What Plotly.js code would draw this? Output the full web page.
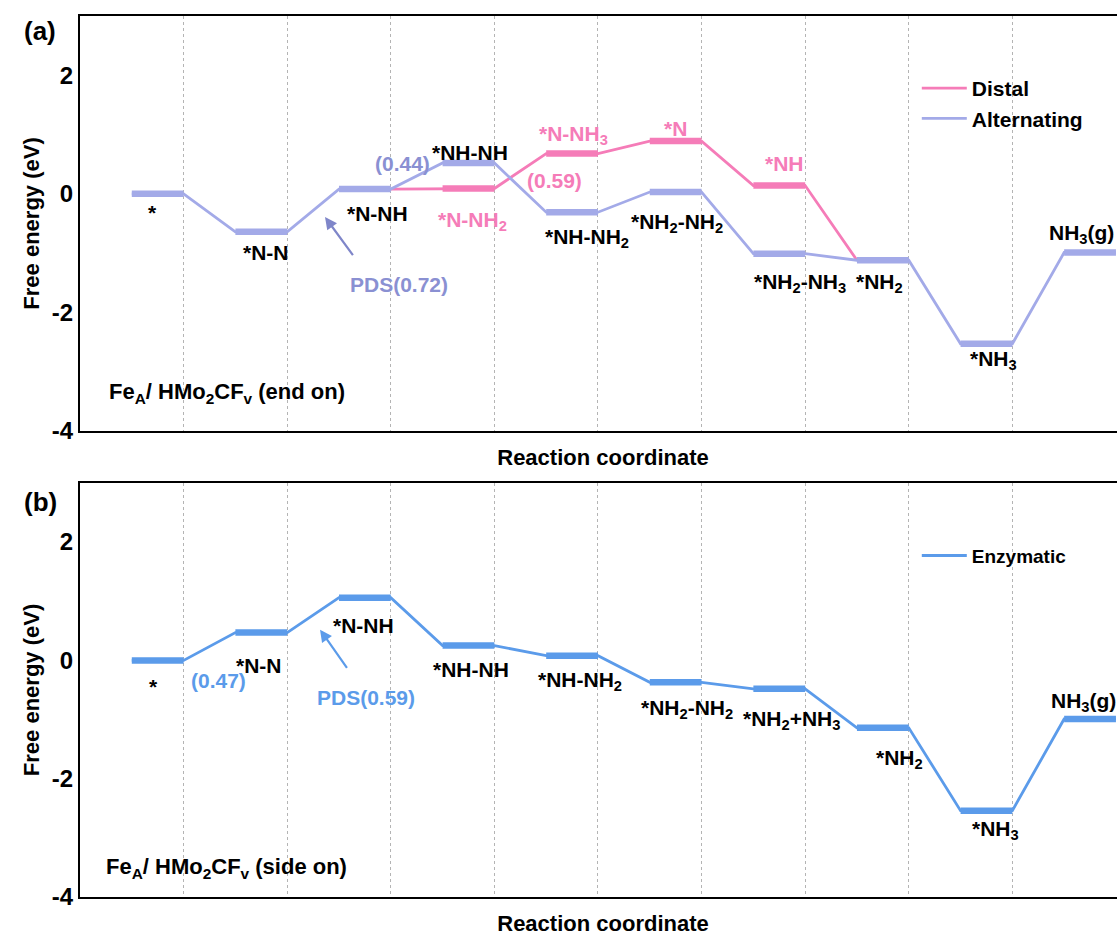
<!DOCTYPE html>
<html><head><meta charset="utf-8">
<script src="https://cdn.plot.ly/plotly-3.0.1.min.js"></script>
<style>html,body{margin:0;padding:0;overflow:hidden;background:#fff}#chart{width:1130px;height:936px}</style>
</head><body><div id="chart"></div>
<script>
// ---------- data ----------
const altSteps = [0,1,2,3,4,5,6,7,8,9];
const altStates = ['*','*N-N','*N-NH','*NH-NH','*NH-NH2','*NH2-NH2','*NH2-NH3','*NH2','*NH3','NH3(g)'];
const altG = [0.00,-0.64,0.08,0.52,-0.31,0.03,-1.01,-1.12,-2.53,-0.99];
const distSteps = [2,3,4,5,6,7];
const distStates = ['*N-NH','*N-NH2','*N-NH3','*N','*NH','*NH2'];
const distG = [0.08,0.09,0.68,0.89,0.14,-1.12];
const enzSteps = [0,1,2,3,4,5,6,7,8,9];
const enzStates = ['*','*N-N','*N-NH','*NH-NH','*NH-NH2','*NH2-NH2','*NH2+NH3','*NH2','*NH3','NH3(g)'];
const enzG = [0.00,0.47,1.06,0.25,0.08,-0.37,-0.48,-1.14,-2.54,-0.99];
const yTickVals = [-4,-2,0,2];
const yTickText = ['-4','-2','0','2'];
const gridSteps = [1,2,3,4,5,6,7,8,9];

// ---------- styles ----------
const FONT = 'Liberation Sans, Arial, sans-serif';
const C_ALT = '#a3aae8', C_ALT_TXT = '#8a90d2', C_DIST = '#f57cb8', C_ENZ = '#5b9bea';
const LAB = 21;

// connector path: each state is a plateau from step+0.5 to step+1
function connector(steps, g, partial) {
  const x = [], y = [];
  steps.forEach((s, k) => {
    const first = partial && k === 0, last = partial && k === steps.length - 1;
    if (!first) { x.push(s + 0.5); y.push(g[k]); }
    if (!last) { x.push(s + 1); y.push(g[k]); }
  });
  return {x, y};
}
function levels(steps, g, partial) {
  const x = [], y = [];
  steps.forEach((s, k) => {
    if (partial && (k === 0 || k === steps.length - 1)) return;
    x.push(s + 0.5, s + 1, null); y.push(g[k], g[k], null);
  });
  return {x, y};
}

const traces = [];
function addSeries(name, steps, g, states, partial, color, xa, ya, legend) {
  const c = connector(steps, g, partial), l = levels(steps, g, partial);
  traces.push({type:'scatter', mode:'lines', name, x:c.x, y:c.y, xaxis:xa, yaxis:ya, legend,
    line:{color, width:2.8}, hoverinfo:'skip'});
  traces.push({type:'scatter', mode:'lines', name, x:l.x, y:l.y, xaxis:xa, yaxis:ya, legend,
    line:{color, width:6.5}, showlegend:false, hoverinfo:'skip'});
}
addSeries('Distal', distSteps, distG, distStates, true, C_DIST, 'x', 'y', 'legend');
addSeries('Alternating', altSteps, altG, altStates, false, C_ALT, 'x', 'y', 'legend');
addSeries('Enzymatic', enzSteps, enzG, enzStates, false, C_ENZ, 'x2', 'y2', 'legend2');

function xAxis(anchor) {
  return {domain:[0,1], range:[0,10.097], anchor, tickvals:gridSteps, showticklabels:false, ticks:'',
    showgrid:true, gridcolor:'#b4b4b4', gridwidth:1, griddash:'3px,3px', zeroline:false,
    showline:true, mirror:true, linecolor:'#000', linewidth:2, fixedrange:true,
    title:{text:'Reaction coordinate', standoff:18, font:{family:FONT, size:22, color:'#000', weight:'bold'}}};
}
function yAxis(anchor, domain) {
  return {domain, range:[-4,3], anchor, tickvals:yTickVals, ticktext:yTickText, ticks:'',
    tickfont:{family:FONT, size:24, color:'#000', weight:'bold'}, showgrid:false, zeroline:false,
    showline:true, mirror:true, linecolor:'#000', linewidth:2, fixedrange:true,
    title:{text:'Free energy (eV)', standoff:6, font:{family:FONT, size:22, color:'#000', weight:'bold'}}};
}

const labTop = [
  ['*', 0.70, -0.32, '#000'],
  ['*N-N', 1.80, -0.99, '#000'],
  ['*N-NH', 2.87, -0.34, '#000'],
  ['(0.44)', 3.11, 0.51, C_ALT_TXT],
  ['*NH-NH', 3.76, 0.69, '#000'],
  ['*N-NH<sub>2</sub>', 3.79, -0.45, C_DIST],
  ['PDS(0.72)', 3.08, -1.53, C_ALT_TXT],
  ['*N-NH<sub>3</sub>', 4.76, 1.00, C_DIST],
  ['(0.59)', 4.585, 0.22, C_DIST],
  ['*N', 5.75, 1.11, C_DIST],
  ['*NH-NH<sub>2</sub>', 4.89, -0.74, '#000'],
  ['*NH<sub>2</sub>-NH<sub>2</sub>', 5.76, -0.50, '#000'],
  ['*NH', 6.80, 0.52, C_DIST],
  ['*NH<sub>2</sub>-NH<sub>3</sub>', 6.95, -1.51, '#000'],
  ['*NH<sub>2</sub>', 7.72, -1.51, '#000'],
  ['*NH<sub>3</sub>', 8.82, -2.80, '#000'],
  ['NH<sub>3</sub>(g)', 9.334, -0.67, '#000', 'left']
];
const labBot = [
  ['*', 0.705, -0.44, '#000'],
  ['(0.47)', 1.34, -0.34, C_ENZ],
  ['*N-N', 1.73, -0.08, '#000'],
  ['*N-NH', 2.74, 0.59, '#000'],
  ['PDS(0.59)', 2.76, -0.62, C_ENZ],
  ['*NH-NH', 3.77, -0.15, '#000'],
  ['*NH-NH<sub>2</sub>', 4.83, -0.35, '#000'],
  ['*NH<sub>2</sub>-NH<sub>2</sub>', 5.86, -0.82, '#000'],
  ['*NH<sub>2</sub>+NH<sub>3</sub>', 6.87, -1.01, '#000'],
  ['*NH<sub>2</sub>', 7.915, -1.67, '#000'],
  ['*NH<sub>3</sub>', 8.84, -2.87, '#000'],
  ['NH<sub>3</sub>(g)', 9.353, -0.71, '#000', 'left']
];
const annotations = [];
function addLabels(list, xr, yr) {
  list.forEach(a => annotations.push({text:a[0], x:a[1], y:a[2], xref:xr, yref:yr, showarrow:false,
    xanchor:a[4] || 'center', yanchor:'middle', font:{family:FONT, size:LAB, color:a[3], weight:'bold'}}));
}
addLabels(labTop, 'x', 'y');
addLabels(labBot, 'x2', 'y2');
annotations.push({text:'Fe<sub>A</sub>/ HMo<sub>2</sub>CF<sub>v</sub> (end on)', x:0.26, y:-3.36, xref:'x', yref:'y',
  showarrow:false, xanchor:'left', yanchor:'middle', font:{family:FONT, size:22, color:'#000', weight:'bold'}});
annotations.push({text:'Fe<sub>A</sub>/ HMo<sub>2</sub>CF<sub>v</sub> (side on)', x:0.23, y:-3.51, xref:'x2', yref:'y2',
  showarrow:false, xanchor:'left', yanchor:'middle', font:{family:FONT, size:22, color:'#000', weight:'bold'}});
annotations.push({text:'(a)', x:-0.038, y:0.983, xref:'paper', yref:'paper', showarrow:false,
  xanchor:'center', yanchor:'middle', font:{family:FONT, size:26, color:'#000', weight:'bold'}});
annotations.push({text:'(b)', x:-0.038, y:0.448, xref:'paper', yref:'paper', showarrow:false,
  xanchor:'center', yanchor:'middle', font:{family:FONT, size:26, color:'#000', weight:'bold'}});
// arrows
annotations.push({text:'', x:2.365, y:-0.39, ax:2.645, ay:-1.06, xref:'x', yref:'y', axref:'x', ayref:'y',
  showarrow:true, arrowhead:2, arrowsize:1.1, arrowwidth:2.2, arrowcolor:'#7f86c9'});
annotations.push({text:'', x:2.317, y:0.52, ax:2.587, ay:-0.15, xref:'x2', yref:'y2', axref:'x2', ayref:'y2',
  showarrow:true, arrowhead:2, arrowsize:1.1, arrowwidth:2.2, arrowcolor:C_ENZ});

const layout = {
  width:1130, height:936, margin:{l:80, r:4, t:16, b:39},
  paper_bgcolor:'#fff', plot_bgcolor:'#fff',
  font:{family:FONT, color:'#000', weight:'bold'},
  showlegend:true,
  xaxis:xAxis('y'), yaxis:yAxis('x', [0.529, 1]),
  xaxis2:xAxis('y2'), yaxis2:yAxis('x2', [0, 0.470]),
  legend:{x:0.800, y:0.941, xanchor:'left', yanchor:'top', bgcolor:'rgba(0,0,0,0)', itemwidth:45,
    tracegroupgap:0, font:{family:FONT, size:21, color:'#000', weight:'bold'}},
  legend2:{x:0.800, y:0.409, xanchor:'left', yanchor:'top', bgcolor:'rgba(0,0,0,0)', itemwidth:45,
    font:{family:FONT, size:19, color:'#000', weight:'bold'}},
  annotations
};
Plotly.newPlot('chart', traces, layout, {staticPlot:true, displayModeBar:false});
</script></body></html>
